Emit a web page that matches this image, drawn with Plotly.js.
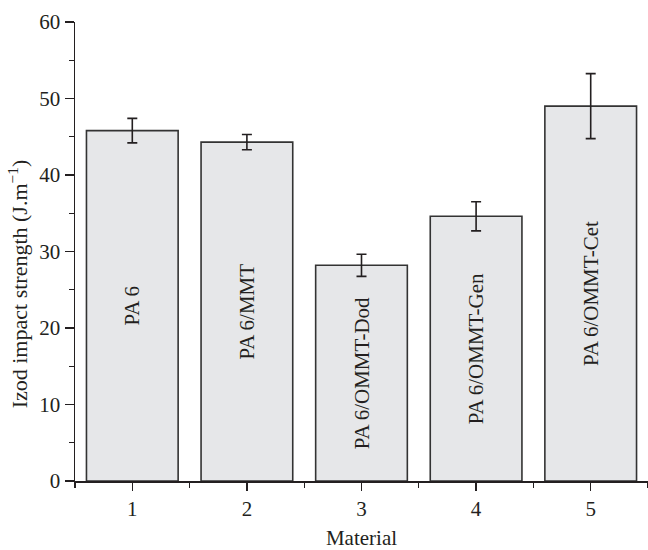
<!DOCTYPE html>
<html>
<head>
<meta charset="utf-8">
<script src="https://cdn.plot.ly/plotly-3.0.1.min.js"></script>
<style>html,body{margin:0;padding:0;background:#fff;}#chart{width:648px;height:550px;}</style>
</head>
<body>
<div id="chart"></div>
<script>
const materials = [1, 2, 3, 4, 5];
const labels = ["PA 6", "PA 6/MMT", "PA 6/OMMT-Dod", "PA 6/OMMT-Gen", "PA 6/OMMT-Cet"];
const strength = [45.8, 44.3, 28.2, 34.6, 49.0];
const errors = [1.6, 1.0, 1.45, 1.9, 4.25];
const yTicks = [0, 10, 20, 30, 40, 50, 60];
const yTitle = "Izod impact strength (J.m<sup>\u22121</sup>)";
const xTitle = "Material";

const ink = "#231f20";
const font = "Liberation Serif, Times New Roman, serif";

const trace = {
  type: "bar",
  x: materials,
  y: strength,
  width: 0.8,
  text: labels,
  textposition: "inside",
  insidetextanchor: "middle",
  textangle: -90,
  insidetextfont: {family: font, size: 21, color: ink},
  marker: {color: "#e6e7e9", line: {color: "#333333", width: 1.6}},
  error_y: {type: "data", array: errors, visible: true, color: ink, thickness: 1.6, width: 5},
  hoverinfo: "none"
};

const layout = {
  width: 648, height: 550,
  margin: {l: 75, r: 0, t: 22, b: 69},
  paper_bgcolor: "#fff", plot_bgcolor: "#fff",
  showlegend: false,
  font: {family: font, size: 21, color: ink},
  xaxis: {
    range: [0.5, 5.5],
    tickvals: materials,
    ticktext: materials.map(String),
    showline: true, linecolor: ink, linewidth: 1.5,
    ticks: "outside", ticklen: 8, tickwidth: 1.3, tickcolor: ink,
    minor: {tick0: 0.5, dtick: 1, ticks: "outside", ticklen: 5, tickwidth: 1.3, tickcolor: ink, showgrid: false},
    showgrid: false, zeroline: false,
    tickfont: {family: font, size: 21, color: ink},
    title: {text: xTitle, font: {family: font, size: 21, color: ink}, standoff: 12}
  },
  yaxis: {
    range: [0, 60],
    tickvals: yTicks,
    showline: true, linecolor: ink, linewidth: 1.5,
    ticks: "outside", ticklen: 9, tickwidth: 1.3, tickcolor: ink,
    minor: {dtick: 5, ticks: "outside", ticklen: 5, tickwidth: 1.3, tickcolor: ink, showgrid: false},
    showgrid: false, zeroline: false,
    tickfont: {family: font, size: 21, color: ink}
  },
  annotations: [{
    text: yTitle,
    xref: "paper", yref: "paper",
    x: -0.1, y: 0.43,
    xanchor: "center", yanchor: "middle",
    textangle: -90,
    showarrow: false,
    font: {family: font, size: 22, color: ink}
  }]
};

Plotly.newPlot("chart", [trace], layout, {staticPlot: true, displayModeBar: false});
</script>
</body>
</html>
